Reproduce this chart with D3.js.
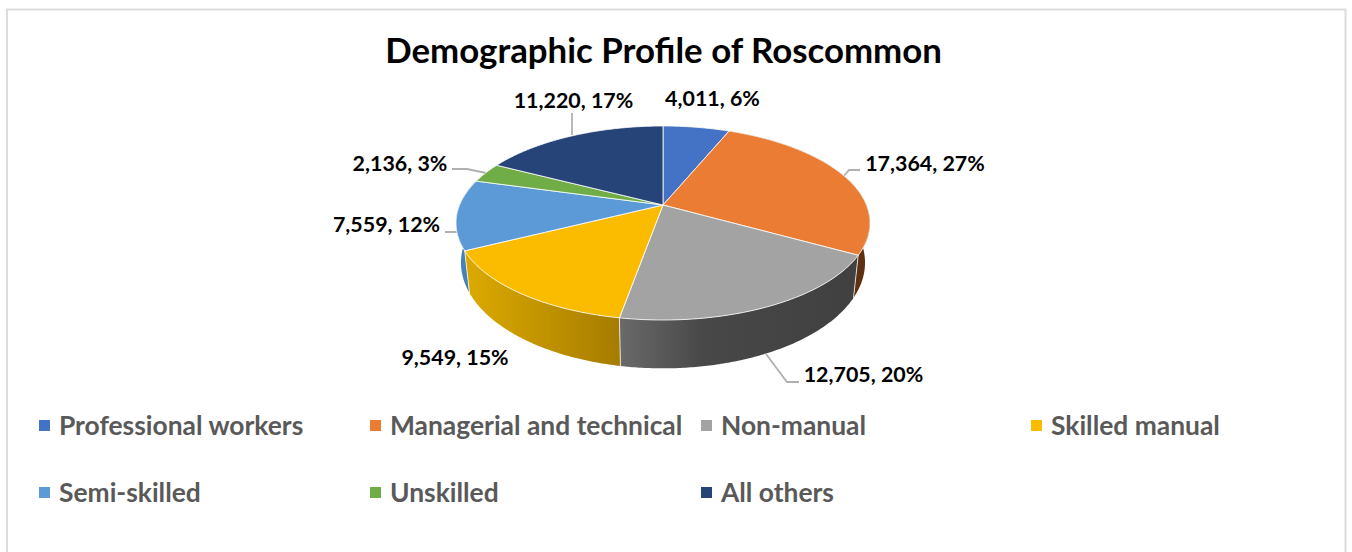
<!DOCTYPE html>
<html><head><meta charset="utf-8">
<style>html,body{margin:0;padding:0;background:#fff}svg{display:block}text{font-family:Lato,Carlito,"Open Sans",sans-serif;font-weight:700}</style>
<script src="https://d3js.org/d3.v7.min.js"></script></head>
<body><svg id="c" width="1352" height="552"></svg>
<script>
const title = "Demographic Profile of Roscommon";
const categories = ["Professional workers","Managerial and technical","Non-manual","Skilled manual","Semi-skilled","Unskilled","All others"];
const values = [4011,17364,12705,9549,7559,2136,11220];
const colors = ["#4472c4","#eb7c33","#a3a3a3","#fbbc00","#5b9ad6","#70ad47","#264478"];

const svg = d3.select("#c");
const total = d3.sum(values);
const W = 1352, H = 552;

// frame: open at the bottom edge of the picture
svg.append("path").attr("d",d3.line()([[7,H],[7,9.5],[1345.5,9.5],[1345.5,H]]))
  .attr("fill","none").attr("stroke","#dcdcdc").attr("stroke-width",2);

svg.append("text").attr("x",663.5).attr("y",62.5).attr("text-anchor","middle").attr("font-size",34.8).attr("fill","#000").text(title);

// perspective-projected pie
const cx=663, cy=205, k=-0.1856, a=93.66, b=203.4;
const topPt = t => { const x=Math.sin(t), y=-Math.cos(t), w=1+k*y; return [cx+b*x/w, cy+a*y/w]; };
const botPt = t => { const p=topPt(t); return [cx+(p[0]-cx)*0.976, p[1]+38+0.09*(p[1]-cy)]; };
const arcs = d3.pie().sort(null).startAngle(0).endAngle(2*Math.PI)(values);
const line = d3.line();
const samples = (s,e) => { const n=Math.max(2,Math.ceil((e-s)/0.01)); return d3.range(n+1).map(i=>s+(e-s)*i/n); };

const defs = svg.append("defs");
const wallStops = [
  [[0,"#6b3a14"],[1,"#57300f"]],
  [[0,"#5e3010"],[1,"#5e3010"]],
  [[0,"#6a6a6a"],[0.35,"#484848"],[1,"#404040"]],
  [[0,"#dcaa00"],[1,"#a67c00"]],
  [[0,"#4a85bd"],[1,"#3f7cb5"]],
  [[0,"#5a8c38"],[1,"#5a8c38"]],
  [[0,"#1f3761"],[1,"#1f3761"]]
];
arcs.forEach((d,i)=>{
  const s=samples(d.startAngle,d.endAngle), xs=s.map(t=>topPt(t)[0]);
  const g=defs.append("linearGradient").attr("id","w"+i).attr("gradientUnits","userSpaceOnUse")
    .attr("x1",d3.min(xs)).attr("x2",d3.max(xs)).attr("y1",0).attr("y2",0);
  wallStops[i].forEach(st=>g.append("stop").attr("offset",st[0]).attr("stop-color",st[1]));
});

// walls: right and left ones first, the front ones last
const wallOrder=[1,4,3,2];
svg.append("g").selectAll("path").data(wallOrder).join("path")
  .attr("d",i=>{const s=samples(arcs[i].startAngle,arcs[i].endAngle);
    return line(s.map(topPt).concat(s.slice().reverse().map(botPt)))+"Z";})
  .attr("fill",i=>`url(#w${i})`);
// wall seams
svg.append("g").selectAll("path").data([arcs[1].endAngle,arcs[2].endAngle,arcs[3].endAngle]).join("path")
  .attr("d",t=>line([topPt(t),botPt(t)])).attr("stroke","#fff").attr("stroke-opacity",0.75).attr("fill","none");

// leader lines (under the top face)
const leaders=[
 [[766,354],[787,382],[799,382]],
 [[572,113],[572,135]],
 [[452,169],[467,169],[486,173]],
 [[445,232],[457,232],[457,215]],
 [[860,170],[849,170],[844,176]]
];
svg.append("g").selectAll("path").data(leaders).join("path").attr("d",d=>line(d)).attr("fill","none").attr("stroke","#b0b0b0").attr("stroke-width",1.8);

// top faces
svg.append("g").selectAll("path").data(arcs).join("path")
  .attr("d",d=>line([[cx,cy]].concat(samples(d.startAngle,d.endAngle).map(topPt)))+"Z")
  .attr("fill",(d,i)=>colors[i]).attr("stroke","#fff").attr("stroke-opacity",0.8).attr("stroke-width",1).attr("stroke-linejoin","round");

// data labels
const fmt=d3.format(",");
const labelText=i=>`${fmt(values[i])}, ${Math.round(values[i]/total*100)}%`;
const labelPos=[[712.5,106],[925,171],[863.5,382],[455,365],[386.5,232],[400,171],[573.5,108]];
svg.append("g").selectAll("text").data(values).join("text")
  .attr("x",(d,i)=>labelPos[i][0]).attr("y",(d,i)=>labelPos[i][1])
  .attr("text-anchor","middle").attr("font-size",21.4).attr("fill","#000").text((d,i)=>labelText(i));

// legend
const colX=[39,370,701,1031], rowY=[425.5,492.5];
const lg=svg.append("g").selectAll("g").data(categories).join("g")
  .attr("transform",(d,i)=>`translate(${colX[i%4]},${rowY[Math.floor(i/4)]})`);
lg.append("rect").attr("y",-5.5).attr("width",11).attr("height",11).attr("fill",(d,i)=>colors[i]);
lg.append("text").attr("x",20).attr("y",9).attr("font-size",26.4).attr("fill","#595959").text(d=>d);
</script></body></html>
